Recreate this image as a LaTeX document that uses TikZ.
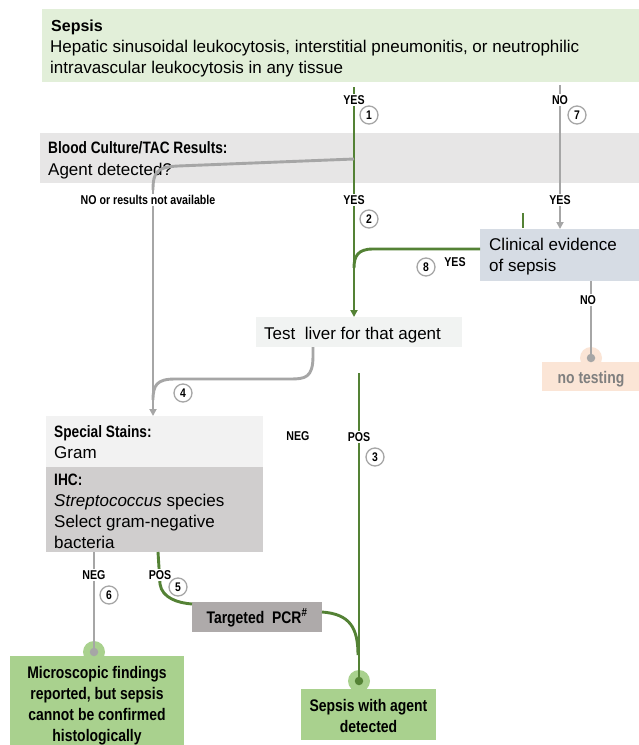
\documentclass[tikz,border=0pt]{standalone}
\usepackage{fontspec}
\setmainfont{Liberation Sans}
\newfontfamily\cond{Liberation Sans}[FakeStretch=0.83]
\usetikzlibrary{arrows.meta}
\definecolor{topgreen}{HTML}{E2EFD9}
\definecolor{bandgray}{HTML}{E7E6E6}
\definecolor{clinblue}{HTML}{D6DCE4}
\definecolor{peach}{HTML}{FBE5D6}
\definecolor{livergray}{HTML}{F1F3F2}
\definecolor{stainsgray}{HTML}{F2F2F2}
\definecolor{ihcgray}{HTML}{D0CECE}
\definecolor{pcrgray}{HTML}{AEAAAA}
\definecolor{endgreen}{HTML}{A9D18E}
\definecolor{lgreen}{HTML}{548235}
\definecolor{lgray}{HTML}{A6A6A6}
\definecolor{txtgray}{HTML}{7F7F7F}
\tikzset{
 box/.style={anchor=north west, inner sep=0pt, outer sep=0pt, draw=none},
 txt/.style={anchor=base west, inner sep=0pt, font=\fontsize{17}{20}\selectfont},
 btxt/.style={anchor=base west, inner sep=0pt, font=\cond\bfseries\fontsize{16.5}{20}\selectfont},
 ctxt/.style={anchor=base, inner sep=0pt, font=\cond\bfseries\fontsize{16.8}{20}\selectfont},
 lab/.style={fill=white, inner sep=1.5pt, font=\cond\bfseries\fontsize{12.8}{13}\selectfont},
 num/.style={circle, draw=lgray, line width=1.3pt, fill=white, minimum size=18pt, inner sep=0pt, font=\cond\bfseries\fontsize{12.5}{13}\selectfont},
 gline/.style={draw=lgreen, line width=2.9pt},
 yline/.style={draw=lgray, line width=2.9pt},
 tip/.style={-{Triangle[length=7pt,width=7pt]}},
 bump/.style={circle, inner sep=0pt, minimum size=22pt},
 dot/.style={circle, inner sep=0pt, minimum size=8.5pt}
}
\begin{document}
\begin{tikzpicture}[x=1pt,y=-1pt]
\useasboundingbox[fill=white] (0,0) rectangle (639,745);
% boxes
\node[box, fill=topgreen, minimum width=597, minimum height=73] (sepsisbox) at (42,9) {};
\node[box, fill=bandgray, minimum width=599, minimum height=50] (band) at (40,133) {};
\node[box, fill=clinblue, minimum width=159, minimum height=52] (clin) at (480,229) {};
\node[bump, fill=peach] (ntbump) at (591,358) {};
\node[box, fill=peach, minimum width=97, minimum height=29] (notest) at (542,362) {};
\node[box, fill=livergray, minimum width=206, minimum height=30] (liver) at (256,317) {};
\node[box, fill=stainsgray, minimum width=217, minimum height=51] (stains) at (46,416) {};
\node[box, fill=ihcgray, minimum width=217, minimum height=85] (ihc) at (46,467) {};
\node[box, fill=pcrgray, minimum width=130, minimum height=30] (pcr) at (192,602) {};
\node[bump, fill=endgreen] (mbump) at (94,652) {};
\node[box, fill=endgreen, minimum width=174, minimum height=89] (micro) at (10,656) {};
\node[bump, fill=endgreen] (abump) at (359,681) {};
\node[box, fill=endgreen, minimum width=135, minimum height=51] (agent) at (301,689) {};
% texts
\node[anchor=base west, inner sep=0pt, font=\bfseries\fontsize{16}{20}\selectfont] (t1) at (51,31.5) {Sepsis};
\node[txt] (t2) at (50,52.5) {Hepatic sinusoidal leukocytosis, interstitial pneumonitis, or neutrophilic};
\node[txt] (t3) at (50,73.5) {intravascular leukocytosis in any tissue};
\node[btxt] (t4) at (48,153.5) {Blood Culture/TAC Results:};
\node[txt] (t5) at (48,175) {Agent detected?};
\node[txt] (t6) at (489,250.5) {Clinical evidence};
\node[txt] (t7) at (489,271.5) {of sepsis};
\node[txt] (t8) at (264,339.5) {Test\ \ liver for that agent};
\node[ctxt, text=txtgray] (t9) at (591,383) {no testing};
\node[btxt] (t10) at (54,437.5) {Special Stains:};
\node[txt] (t11) at (54,458.5) {Gram};
\node[btxt] (t12) at (54,485.5) {IHC:};
\node[txt] (t13) at (54,506.5) {\textit{Streptococcus} species};
\node[txt] (t14) at (54,527.5) {Select gram-negative};
\node[txt] (t15) at (54,548) {bacteria};
\node[ctxt] (t16) at (257,623) {Targeted\ \ PCR\textsuperscript{\#}};
\node[ctxt] (t17) at (97,678) {Microscopic findings};
\node[ctxt] (t18) at (97,699) {reported, but sepsis};
\node[ctxt] (t19) at (97,720) {cannot be confirmed};
\node[ctxt] (t20) at (97,741) {histologically};
\node[ctxt] (t21) at (368.5,711) {Sepsis with agent};
\node[ctxt] (t22) at (368.5,732) {detected};
% connector coordinates
\coordinate (yesstart) at (354,87);
\coordinate (nostart) at (560,85);
\coordinate (bandjoin) at (354,159);
\coordinate (gbend) at (178,166);
\coordinate (leftv) at (153,190);
\coordinate (merge8) at (354,268);
\coordinate (gdash) at (523,213);
\coordinate (posstart) at (359,373);
\coordinate (pcrjoin) at (358,655);
\coordinate (ihcneg) at (94,552);
\coordinate (ihcpos) at (158,552);
\coordinate (clinno) at (591,281);
% lines
\draw[gline, tip] (yesstart) -- (yesstart |- liver.north);
\draw[yline, tip] (nostart) -- (nostart |- clin.north);
\draw[gline] (gdash) -- ++(0,15);
\draw[yline] (bandjoin) -- (gbend) .. controls (157,167) and (153,172) .. (leftv);
\draw[yline, tip] (leftv) -- (leftv |- stains.north);
\draw[yline] (313,347) -- (313,356) .. controls (313,378) and (305,379) .. (290,379) -- (175,379) .. controls (157,379) and (153,385) .. (153,400);
\draw[gline] (clin.west |- 0,249) -- (373,249) .. controls (358,249) and (354,256) .. (merge8);
\draw[gline] (posstart) -- (abump.center);
\draw[gline] (pcr.east |- 0,612) .. controls (350,614) and (358,628) .. (pcrjoin);
\draw[yline] (ihcneg) -- (mbump.center);
\draw[gline] (ihcpos) -- (160,584) .. controls (162,598) and (178,603) .. (pcr.north west |- 0,604);
\draw[yline] (clinno) -- (ntbump.center);
% dots
\node[dot, fill=lgray] (d1) at (ntbump.center) {};
\node[dot, fill=lgray] (d2) at (mbump.center) {};
\node[dot, fill=lgreen] (d3) at (abump.center) {};
% labels
\node[lab] (l1) at (354,100) {YES};
\node[lab] (l2) at (354,200) {YES};
\node[lab] (l3) at (560,100) {NO};
\node[lab] (l4) at (560,200) {YES};
\node[lab] (l5) at (148,200) {NO or results not available};
\node[lab] (l6) at (455,262) {YES};
\node[lab] (l7) at (588,300) {NO};
\node[lab] (l8) at (298,436) {NEG};
\node[lab] (l9) at (359,437) {POS};
\node[lab] (l10) at (94,575) {NEG};
\node[lab] (l11) at (160,575) {POS};
% numbers
\node[num] (n1) at (369,115) {1};
\node[num] (n7) at (577,115) {7};
\node[num] (n2) at (369,219) {2};
\node[num] (n8) at (426,267) {8};
\node[num] (n4) at (183,393) {4};
\node[num] (n3) at (375,457) {3};
\node[num] (n6) at (109,595) {6};
\node[num] (n5) at (178,587) {5};
\end{tikzpicture}
\end{document}
